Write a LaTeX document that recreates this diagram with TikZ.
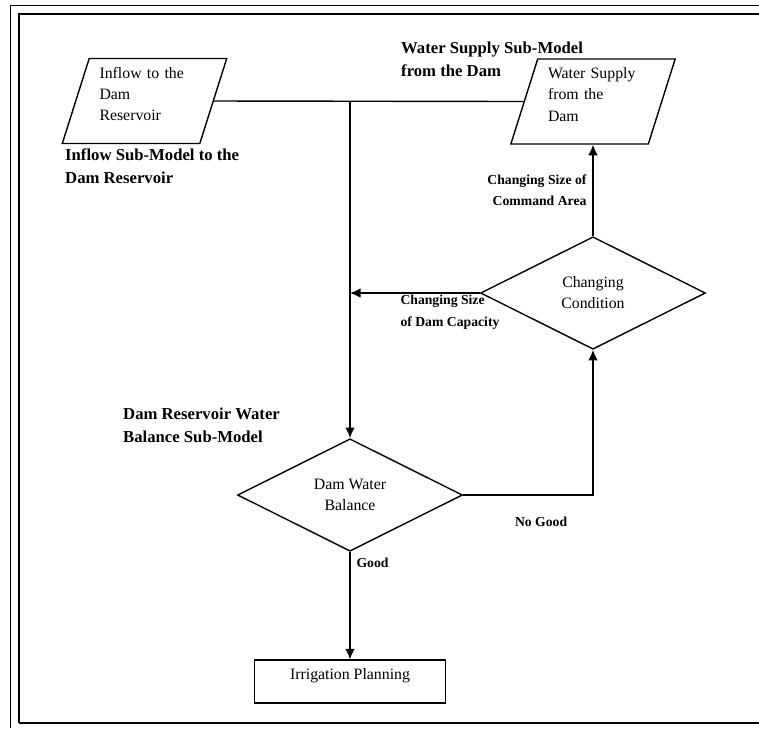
\documentclass[tikz,border=0pt]{standalone}
\usepackage{fontspec}
\setmainfont{Liberation Serif}
\usetikzlibrary{shapes.geometric,arrows.meta}
\tikzset{>={Latex[length=6pt,width=5.5pt]}}
\tikzset{
  iobox/.style = {draw,thick,trapezium,trapezium left angle=72,trapezium right angle=108,
    trapezium stretches=true,minimum width=3.3cm,minimum height=1.7cm,inner sep=0pt,
    text width=1.8cm,align=left,font=\fontsize{9}{12}\selectfont},
  decide/.style = {draw,thick,diamond,minimum width=4.5cm,minimum height=2.25cm,inner sep=0pt,
    align=center,font=\fontsize{9}{12}\selectfont},
  procbox/.style = {draw,thick,rectangle,minimum width=3.82cm,minimum height=0.86cm,
    text depth=0.3cm,font=\fontsize{9}{12}\selectfont},
  submodel/.style = {align=left,font=\bfseries\fontsize{9.5}{13}\selectfont},
  edgelabel/.style = {font=\bfseries\fontsize{7.8}{12}\selectfont}
}

\begin{document}
\begin{tikzpicture}[x=0.02cm,y=-0.02cm]
  \useasboundingbox (0,0) rectangle (759,728);
  \draw (10,728) -- (10,5) -- (759,5);
  \draw[very thick] (19,723) -- (19,14) -- (759,14);
  \draw[very thick] (19,723) -- (759,723);

  \node[iobox] (inflow) at (144.5,101) {Inflow to the\\Dam\\Reservoir\\[-4pt]\mbox{}};
  \node[iobox] (supply) at (593,101.5) {Water Supply\\from the\\Dam\\[-4pt]\mbox{}};
  \node[decide] (condition) at (593,293) {Changing\\Condition};
  \node[decide] (balance) at (350,495) {Dam Water\\Balance};
  \node[procbox] (planning) at (350,681.5) {Irrigation Planning};

  \node[submodel,anchor=west] (inflowlbl) at (59,166.5) {Inflow Sub-Model to the\\Dam Reservoir};
  \node[submodel,anchor=west] (supplylbl) at (395,59.5) {Water Supply Sub-Model\\from the Dam};
  \node[submodel,anchor=west] (balancelbl) at (117,425) {Dam Reservoir Water\\Balance Sub-Model};

  \draw[thick] (inflow.east) -- (supply.west);
  \draw[->,thick] (inflow.east -| balance.north) -- (balance.north);
  \draw[->,thick] (condition.north) -- node[edgelabel,align=right,anchor=east] {Changing Size of\\Command Area} (condition.north |- supply.south);
  \draw[->,thick] (condition.west) -- node[edgelabel,align=left,anchor=north west,pos=0.63,inner sep=1pt] {Changing Size\\of Dam Capacity} (condition.west -| balance.north);
  \draw[->,thick] (balance.east) -| node[edgelabel,pos=0.3,below=0.3cm] {No Good} (condition.south);
  \draw[->,thick] (balance.south) -- node[edgelabel,pos=0.1,right] {Good} (planning.north);
\end{tikzpicture}
\end{document}
